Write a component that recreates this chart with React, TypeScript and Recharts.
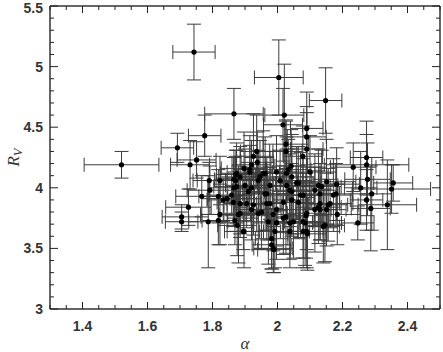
import { ScatterChart, Scatter, XAxis, YAxis, ErrorBar } from "recharts";

// alpha (x), R_V (y) and their 1-sigma errors
const alpha = [
  1.52, 1.743, 2.004, 2.148, 1.866, 2.021, 1.692, 1.776, 1.751, 1.731,
  1.79, 1.823, 1.866, 1.866, 1.792, 1.767, 1.818, 1.726, 1.705, 1.705,
  1.787, 1.818, 1.872, 1.874, 1.885, 1.88, 1.869, 1.876, 1.895, 1.833,
  1.845, 1.859, 1.905, 1.91, 1.938, 1.92, 1.915, 1.885, 1.897, 1.936,
  1.926, 1.874, 1.871, 1.946, 1.956, 1.997, 2.033, 2.042, 2.044, 2.064,
  2.1, 2.126, 2.151, 2.182, 2.131, 2.115, 2.017, 2.09, 2.09, 2.09,
  2.026, 2.078, 2.233, 2.274, 2.274, 2.277, 2.356, 2.351, 2.256, 2.026,
  2.028, 2.008, 2.059, 1.977, 1.962, 1.864, 1.967, 2.018, 2.038, 1.92,
  1.941, 1.997, 1.885, 1.823, 2.29, 2.274, 2.287, 2.338, 2.184, 2.151,
  2.131, 2.162, 2.172, 2.18, 2.136, 2.071, 2.064, 2.131, 2.088, 2.044,
  1.915, 1.962, 1.941, 1.9, 1.92, 1.967, 1.926, 1.977, 1.951, 1.987,
  1.972, 1.897, 1.982, 1.987, 2.028, 2.044, 2.079, 2.156, 2.126, 2.115,
  2.09, 2.085, 2.049, 2.018, 1.997, 2.038, 2.09, 2.146, 1.992, 1.982,
  1.989, 2.026, 2.038, 2.247, 2.079, 2.079, 2.092, 2.141,
];
const rv = [
  4.19, 5.12, 4.91, 4.72, 4.61, 4.6, 4.33, 4.43, 4.23, 4.19,
  4.06, 4.06, 4.07, 4.0, 3.98, 3.93, 3.93, 3.84, 3.76, 3.72,
  3.72, 3.73, 4.11, 4.01, 3.87, 3.78, 3.73, 3.69, 3.64, 3.9,
  3.91, 3.94, 3.87, 3.97, 4.21, 4.19, 4.13, 4.09, 4.16, 4.3,
  4.26, 4.12, 4.06, 4.09, 4.12, 4.13, 4.15, 4.18, 4.09, 4.04,
  4.13, 4.02, 4.05, 4.03, 3.95, 3.98, 4.52, 4.49, 4.42, 4.32,
  4.36, 4.26, 4.17, 4.25, 4.19, 4.07, 4.04, 3.99, 4.0, 4.3,
  4.12, 4.06, 4.04, 4.02, 3.95, 3.88, 3.87, 3.88, 3.98, 3.82,
  3.79, 3.82, 3.79, 3.78, 3.95, 3.9, 3.83, 3.86, 3.78, 3.82,
  3.82, 3.87, 3.94, 3.95, 4.01, 3.94, 3.88, 3.87, 3.77, 3.9,
  4.15, 4.12, 4.06, 4.02, 4.0, 3.95, 3.86, 3.87, 3.8, 3.78,
  3.72, 3.64, 3.58, 3.5, 4.02, 3.97, 3.94, 3.86, 3.84, 3.82,
  3.79, 3.71, 3.72, 3.75, 3.71, 3.64, 3.64, 3.69, 3.64, 3.53,
  3.49, 3.76, 3.71, 3.71, 3.72, 3.64, 3.62, 3.68,
];
const alphaErr = [
  0.115, 0.065, 0.075, 0.05, 0.09, 0.06, 0.05, 0.05, 0.06, 0.06,
  0.05, 0.07, 0.06, 0.08, 0.07, 0.08, 0.06, 0.07, 0.06, 0.05,
  0.06, 0.05, 0.06, 0.07, 0.05, 0.06, 0.05, 0.06, 0.05, 0.05,
  0.06, 0.07, 0.06, 0.05, 0.05, 0.06, 0.07, 0.06, 0.07, 0.05,
  0.06, 0.05, 0.06, 0.07, 0.05, 0.06, 0.07, 0.05, 0.06, 0.07,
  0.08, 0.06, 0.09, 0.07, 0.06, 0.07, 0.06, 0.05, 0.06, 0.05,
  0.07, 0.06, 0.07, 0.05, 0.13, 0.07, 0.06, 0.12, 0.05, 0.05,
  0.06, 0.07, 0.05, 0.06, 0.07, 0.05, 0.06, 0.07, 0.06, 0.05,
  0.06, 0.07, 0.05, 0.06, 0.06, 0.05, 0.06, 0.09, 0.07, 0.06,
  0.05, 0.07, 0.06, 0.05, 0.06, 0.07, 0.05, 0.06, 0.07, 0.06,
  0.05, 0.06, 0.07, 0.06, 0.05, 0.07, 0.06, 0.05, 0.06, 0.07,
  0.05, 0.06, 0.05, 0.06, 0.07, 0.06, 0.05, 0.06, 0.07, 0.05,
  0.06, 0.07, 0.06, 0.05, 0.07, 0.06, 0.05, 0.06, 0.07, 0.06,
  0.05, 0.06, 0.07, 0.05, 0.06, 0.07, 0.06, 0.05,
];
const rvErr = [
  0.11, 0.23, 0.31, 0.27, 0.21, 0.42, 0.12, 0.17, 0.15, 0.2,
  0.15, 0.2, 0.18, 0.25, 0.2, 0.17, 0.22, 0.15, 0.1, 0.08,
  0.38, 0.2, 0.2, 0.3, 0.25, 0.4, 0.2, 0.25, 0.15, 0.18,
  0.2, 0.17, 0.2, 0.2, 0.25, 0.2, 0.22, 0.25, 0.3, 0.3,
  0.35, 0.25, 0.2, 0.3, 0.35, 0.3, 0.25, 0.3, 0.35, 0.3,
  0.3, 0.3, 0.35, 0.3, 0.25, 0.3, 0.3, 0.3, 0.25, 0.3,
  0.2, 0.25, 0.2, 0.3, 0.25, 0.3, 0.15, 0.2, 0.3, 0.25,
  0.3, 0.25, 0.3, 0.28, 0.3, 0.2, 0.3, 0.25, 0.3, 0.25,
  0.3, 0.3, 0.2, 0.25, 0.3, 0.25, 0.35, 0.37, 0.25, 0.3,
  0.25, 0.2, 0.3, 0.25, 0.3, 0.35, 0.3, 0.3, 0.35, 0.3,
  0.28, 0.3, 0.25, 0.3, 0.25, 0.3, 0.25, 0.3, 0.3, 0.3,
  0.35, 0.3, 0.25, 0.2, 0.3, 0.35, 0.3, 0.3, 0.3, 0.35,
  0.3, 0.35, 0.3, 0.3, 0.3, 0.3, 0.3, 0.3, 0.3, 0.2,
  0.19, 0.3, 0.3, 0.14, 0.3, 0.3, 0.3, 0.3,
];

const xTicks = [
  1.3, 1.35, 1.4, 1.45, 1.5, 1.55, 1.6, 1.65, 1.7, 1.75, 1.8, 1.85, 1.9,
  1.95, 2, 2.05, 2.1, 2.15, 2.2, 2.25, 2.3, 2.35, 2.4, 2.45, 2.5,
];
const xLabels = [1.4, 1.6, 1.8, 2, 2.2, 2.4];
const yTicks = [
  3, 3.1, 3.2, 3.3, 3.4, 3.5, 3.6, 3.7, 3.8, 3.9, 4, 4.1, 4.2, 4.3, 4.4,
  4.5, 4.6, 4.7, 4.8, 4.9, 5, 5.1, 5.2, 5.3, 5.4, 5.5,
];
const yLabels = [3, 3.5, 4, 4.5, 5, 5.5];

const data = alpha.map((x, i) => ({ x, y: rv[i], ex: alphaErr[i], ey: rvErr[i] }));

const INK = "#222";
const FONT = "'Liberation Sans', Arial, sans-serif";

const isIn = (v: number, list: number[]) => list.some((l) => Math.abs(l - v) < 1e-6);
const fmt = (v: number) => String(Number(v.toFixed(2)));

function BottomTick({ x, y, payload }: any) {
  const major = isIn(payload.value, xLabels);
  return (
    <g>
      <line x1={x} x2={x} y1={y} y2={y - (major ? 7 : 4)} stroke={INK} />
      {major && (
        <text x={x} y={y + 22} textAnchor="middle" fontFamily={FONT} fontSize={14} fontWeight="bold" fill="#333">
          {fmt(payload.value)}
        </text>
      )}
    </g>
  );
}

function TopTick({ x, y, payload }: any) {
  const major = isIn(payload.value, xLabels);
  return <line x1={x} x2={x} y1={y} y2={y + (major ? 7 : 4)} stroke={INK} />;
}

function LeftTick({ x, y, payload }: any) {
  const major = isIn(payload.value, yLabels);
  // the top label sits a touch lower so it is not clipped
  const dy = payload.value > 5.45 ? 7 : 5;
  return (
    <g>
      <line x1={x} x2={x + (major ? 8 : 4)} y1={y} y2={y} stroke={INK} />
      {major && (
        <text x={x - 7} y={y + dy} textAnchor="end" fontFamily={FONT} fontSize={14} fontWeight="bold" fill="#333">
          {fmt(payload.value)}
        </text>
      )}
    </g>
  );
}

function RightTick({ x, y, payload }: any) {
  const major = isIn(payload.value, yLabels);
  return <line x1={x} x2={x - (major ? 8 : 4)} y1={y} y2={y} stroke={INK} />;
}

function AlphaLabel({ viewBox }: any) {
  return (
    <text x={viewBox.x + viewBox.width / 2} y={viewBox.y + 40} textAnchor="middle"
      fontFamily="'Liberation Serif', serif" fontStyle="italic" fontSize={17} fill="#333">
      α
    </text>
  );
}

function RvLabel({ viewBox }: any) {
  const cx = viewBox.x + 19;
  const cy = viewBox.y + viewBox.height / 2;
  return (
    <text x={cx} y={cy} transform={`rotate(-90, ${cx}, ${cy})`} textAnchor="middle"
      fontFamily="'Liberation Serif', serif" fontStyle="italic" fontSize={17} fill="#333">
      R<tspan fontSize={12} dy={3}>V</tspan>
    </text>
  );
}

const Dot = (props: any) => <circle cx={props.cx} cy={props.cy} r={2.6} fill="#000" />;
const NoDot = () => <g />;

export default function App() {
  const axisLine = { stroke: "#333", strokeWidth: 1.5 };
  return (
    <div style={{ position: "absolute", left: 0, top: 0, background: "#fff" }}>
      <ScatterChart width={443} height={352} margin={{ top: 5, right: 2, bottom: 0, left: 0 }}>
        <XAxis dataKey="x" type="number" domain={[1.3, 2.5]} allowDataOverflow ticks={xTicks}
          interval={0} height={43} tickSize={0} tickMargin={0} tickLine={false}
          axisLine={axisLine} tick={<BottomTick />} label={<AlphaLabel />} />
        <XAxis xAxisId="top" orientation="top" dataKey="x" type="number" domain={[1.3, 2.5]}
          allowDataOverflow ticks={xTicks} interval={0} height={1} tickSize={0} tickMargin={0}
          tickLine={false} axisLine={axisLine} tick={<TopTick />} />
        <YAxis dataKey="y" type="number" domain={[3, 5.5]} allowDataOverflow ticks={yTicks}
          interval={0} width={50} tickSize={0} tickMargin={0} tickLine={false}
          axisLine={axisLine} tick={<LeftTick />} label={<RvLabel />} />
        <YAxis yAxisId="right" orientation="right" dataKey="y" type="number" domain={[3, 5.5]}
          allowDataOverflow ticks={yTicks} interval={0} width={1} tickSize={0} tickMargin={0}
          tickLine={false} axisLine={axisLine} tick={<RightTick />} />
        {/* invisible copy so the mirrored top/right axes get drawn */}
        <Scatter data={data} dataKey="y" xAxisId="top" yAxisId="right" shape={NoDot}
          isAnimationActive={false} />
        <Scatter data={data} dataKey="y" shape={Dot} isAnimationActive={false}>
          <ErrorBar dataKey="ex" direction="x" width={7} stroke="#3c3c3c" strokeWidth={1} />
          <ErrorBar dataKey="ey" direction="y" width={7} stroke="#3c3c3c" strokeWidth={1} />
        </Scatter>
      </ScatterChart>
    </div>
  );
}
